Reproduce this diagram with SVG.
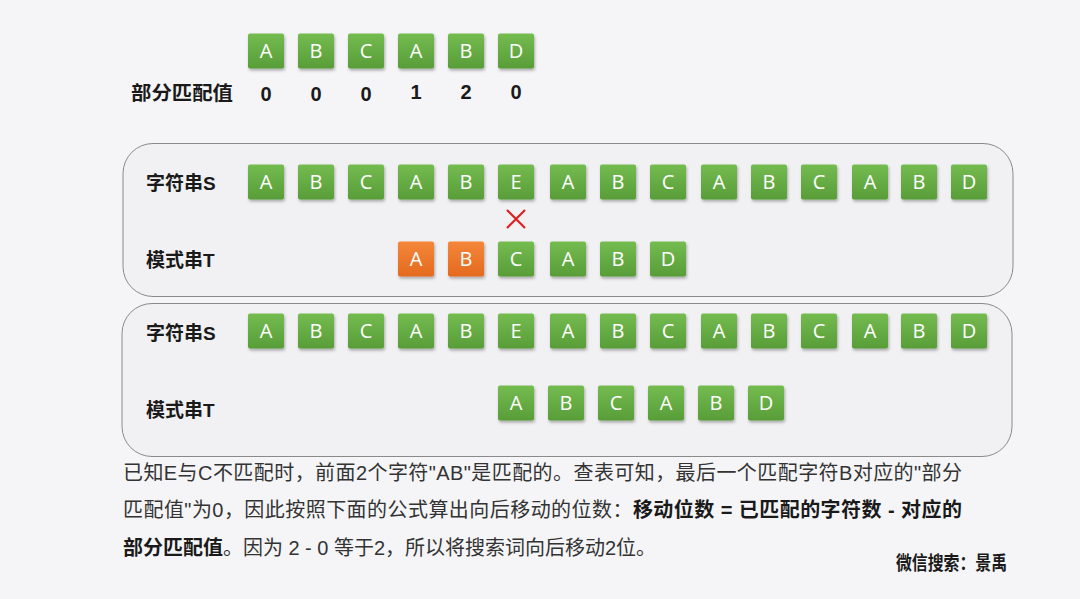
<svg xmlns="http://www.w3.org/2000/svg" width="1080" height="599" viewBox="0 0 1080 599">
<defs>
<linearGradient id="g" x1="0" y1="0" x2="0" y2="1"><stop offset="0" stop-color="#74bb50"/><stop offset="1" stop-color="#589d38"/></linearGradient>
<linearGradient id="o" x1="0" y1="0" x2="0" y2="1"><stop offset="0" stop-color="#f4863a"/><stop offset="1" stop-color="#e46a1e"/></linearGradient>
<filter id="sh" x="-20%" y="-20%" width="150%" height="150%"><feDropShadow dx="1" dy="2" stdDeviation="1.5" flood-color="#000" flood-opacity="0.3"/></filter>
<g id="bg"><rect x="-18" y="-17.5" width="36" height="35" rx="2" fill="url(#g)" filter="url(#sh)"/></g>
<g id="bo"><rect x="-18" y="-17.5" width="36" height="35" rx="2" fill="url(#o)" filter="url(#sh)"/></g>
</defs>
<style>
.l{font-family:"Open Sans","Liberation Sans",sans-serif;font-size:20px;font-weight:500;fill:#fff;text-anchor:middle}
.lab{font-family:"Liberation Sans","Noto Sans CJK SC",sans-serif;font-size:19px;font-weight:bold;fill:#1a1a1a}
.num{font-family:"Liberation Sans",sans-serif;font-size:20px;font-weight:bold;fill:#1a1a1a;text-anchor:middle}
.p{font-family:"Liberation Sans","Noto Sans CJK SC",sans-serif;font-size:20px;fill:#333}
.b{font-weight:bold;fill:#1a1a1a}
.panel{fill:#f1f1f3;stroke:#8a8a8a;stroke-width:1}
</style>
<rect width="1080" height="599" fill="#f5f5f7"/>
<g id="table">
<g transform="translate(266,51)"><use href="#bg"/><text class="l" y="7">A</text></g>
<g transform="translate(316,51)"><use href="#bg"/><text class="l" y="7">B</text></g>
<g transform="translate(366,51)"><use href="#bg"/><text class="l" y="7">C</text></g>
<g transform="translate(416,51)"><use href="#bg"/><text class="l" y="7">A</text></g>
<g transform="translate(466,51)"><use href="#bg"/><text class="l" y="7">B</text></g>
<g transform="translate(516,51)"><use href="#bg"/><text class="l" y="7">D</text></g>
<text class="lab" x="131" y="100" font-size="20.5" textLength="102" lengthAdjust="spacingAndGlyphs">部分匹配值</text>
<text class="num" x="266" y="101">0</text>
<text class="num" x="316" y="101">0</text>
<text class="num" x="366" y="101">0</text>
<text class="num" x="416" y="99">1</text>
<text class="num" x="466" y="99">2</text>
<text class="num" x="516" y="99">0</text>
</g>
<g id="panel1">
<rect class="panel" x="123" y="143.5" width="890" height="153" rx="30"/>
<text class="lab" x="146" y="190">字符串S</text>
<text class="lab" x="146" y="267">模式串T</text>
<g transform="translate(266,182)"><use href="#bg"/><text class="l" y="7">A</text></g>
<g transform="translate(316,182)"><use href="#bg"/><text class="l" y="7">B</text></g>
<g transform="translate(366,182)"><use href="#bg"/><text class="l" y="7">C</text></g>
<g transform="translate(416,182)"><use href="#bg"/><text class="l" y="7">A</text></g>
<g transform="translate(466,182)"><use href="#bg"/><text class="l" y="7">B</text></g>
<g transform="translate(516,182)"><use href="#bg"/><text class="l" y="7">E</text></g>
<g transform="translate(568,182)"><use href="#bg"/><text class="l" y="7">A</text></g>
<g transform="translate(618,182)"><use href="#bg"/><text class="l" y="7">B</text></g>
<g transform="translate(668,182)"><use href="#bg"/><text class="l" y="7">C</text></g>
<g transform="translate(719,182)"><use href="#bg"/><text class="l" y="7">A</text></g>
<g transform="translate(769,182)"><use href="#bg"/><text class="l" y="7">B</text></g>
<g transform="translate(819,182)"><use href="#bg"/><text class="l" y="7">C</text></g>
<g transform="translate(870,182)"><use href="#bg"/><text class="l" y="7">A</text></g>
<g transform="translate(919,182)"><use href="#bg"/><text class="l" y="7">B</text></g>
<g transform="translate(969,182)"><use href="#bg"/><text class="l" y="7">D</text></g>
<path d="M507 210 L525 228 M525 210 L507 228" stroke="#e02020" stroke-width="2.2" fill="none"/>
<g transform="translate(416,259)"><use href="#bo"/><text class="l" y="7">A</text></g>
<g transform="translate(466,259)"><use href="#bo"/><text class="l" y="7">B</text></g>
<g transform="translate(516,259)"><use href="#bg"/><text class="l" y="7">C</text></g>
<g transform="translate(568,259)"><use href="#bg"/><text class="l" y="7">A</text></g>
<g transform="translate(618,259)"><use href="#bg"/><text class="l" y="7">B</text></g>
<g transform="translate(668,259)"><use href="#bg"/><text class="l" y="7">D</text></g>
</g>
<g id="panel2">
<rect class="panel" x="122" y="303.5" width="890" height="153" rx="30"/>
<text class="lab" x="146" y="340">字符串S</text>
<text class="lab" x="146" y="417">模式串T</text>
<g transform="translate(266,331)"><use href="#bg"/><text class="l" y="7">A</text></g>
<g transform="translate(316,331)"><use href="#bg"/><text class="l" y="7">B</text></g>
<g transform="translate(366,331)"><use href="#bg"/><text class="l" y="7">C</text></g>
<g transform="translate(416,331)"><use href="#bg"/><text class="l" y="7">A</text></g>
<g transform="translate(466,331)"><use href="#bg"/><text class="l" y="7">B</text></g>
<g transform="translate(516,331)"><use href="#bg"/><text class="l" y="7">E</text></g>
<g transform="translate(568,331)"><use href="#bg"/><text class="l" y="7">A</text></g>
<g transform="translate(618,331)"><use href="#bg"/><text class="l" y="7">B</text></g>
<g transform="translate(668,331)"><use href="#bg"/><text class="l" y="7">C</text></g>
<g transform="translate(719,331)"><use href="#bg"/><text class="l" y="7">A</text></g>
<g transform="translate(769,331)"><use href="#bg"/><text class="l" y="7">B</text></g>
<g transform="translate(819,331)"><use href="#bg"/><text class="l" y="7">C</text></g>
<g transform="translate(870,331)"><use href="#bg"/><text class="l" y="7">A</text></g>
<g transform="translate(919,331)"><use href="#bg"/><text class="l" y="7">B</text></g>
<g transform="translate(969,331)"><use href="#bg"/><text class="l" y="7">D</text></g>
<g transform="translate(516,403)"><use href="#bg"/><text class="l" y="7">A</text></g>
<g transform="translate(566,403)"><use href="#bg"/><text class="l" y="7">B</text></g>
<g transform="translate(616,403)"><use href="#bg"/><text class="l" y="7">C</text></g>
<g transform="translate(666,403)"><use href="#bg"/><text class="l" y="7">A</text></g>
<g transform="translate(716,403)"><use href="#bg"/><text class="l" y="7">B</text></g>
<g transform="translate(766,403)"><use href="#bg"/><text class="l" y="7">D</text></g>
</g>
<g id="desc">
<text class="p" x="123" y="480" textLength="839" lengthAdjust="spacing">已知E与C不匹配时，前面2个字符"AB"是匹配的。查表可知，最后一个匹配字符B对应的"部分</text>
<text class="p" x="123" y="517" textLength="839" lengthAdjust="spacing">匹配值"为0，因此按照下面的公式算出向后移动的位数：<tspan class="b">移动位数 = 已匹配的字符数 - 对应的</tspan></text>
<text class="p" x="123" y="555" textLength="533" lengthAdjust="spacing"><tspan class="b">部分匹配值</tspan>。因为 2 - 0 等于2，所以将搜索词向后移动2位。</text>
<text class="lab" x="896" y="570" font-size="14" textLength="111" lengthAdjust="spacingAndGlyphs">微信搜索：景禹</text>
</g>
</svg>
